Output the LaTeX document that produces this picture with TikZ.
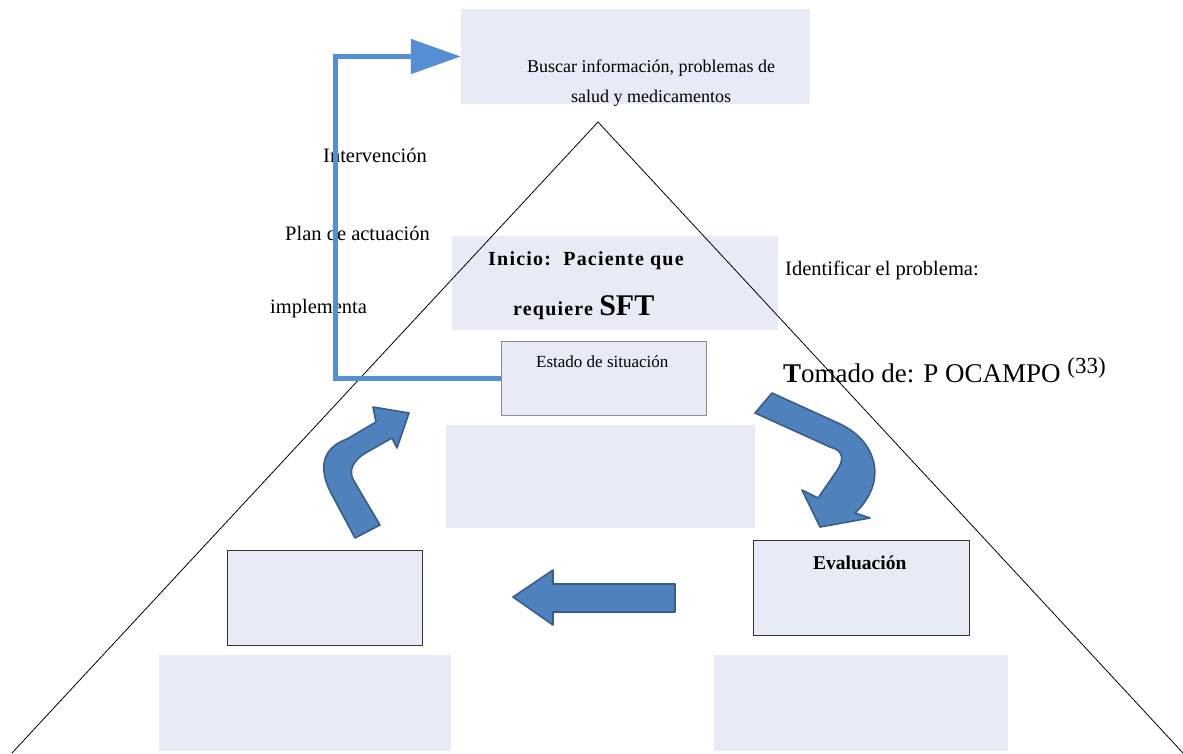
\documentclass[tikz,border=0pt]{standalone}
\usepackage{fontspec}
\setmainfont{Liberation Serif}
\usetikzlibrary{arrows.meta}
\definecolor{boxfill}{RGB}{231,235,246}
\definecolor{linkblue}{RGB}{85,142,213}
\definecolor{arrowfill}{RGB}{79,129,189}
\definecolor{arrowedge}{RGB}{56,93,138}

\begin{document}
\begin{tikzpicture}[
  x=1pt, y=-1pt,
  panel/.style = {fill=boxfill, inner sep=0pt},
  txt/.style = {inner sep=0pt, anchor=base west, font=\fontsize{20.5}{24}\selectfont},
  boxtxt/.style = {inner sep=0pt, anchor=base west, font=\fontsize{18}{21}\selectfont},
  bigarrow/.style = {fill=arrowfill, draw=arrowedge, line width=1.6pt, line join=round}
]
  \useasboundingbox (0,0) rectangle (1183,753);

  % boxes
  \node[panel, minimum width=349pt, minimum height=95pt] (buscar) at (635.5,56.5) {};
  \node[panel, minimum width=326pt, minimum height=94pt] (inicio) at (615,283) {};
  \node[panel, draw=black!45, minimum width=205pt, minimum height=74pt] (estado) at (603.5,378) {};
  \node[panel, minimum width=309pt, minimum height=103pt] (blank) at (600.5,476.5) {};
  \node[panel, draw=black!80, minimum width=195pt, minimum height=95pt] (leftbox) at (324.5,597.5) {};
  \node[panel, draw=black!80, minimum width=216pt, minimum height=95pt] (evalbox) at (861,587.5) {};
  \node[panel, minimum width=292pt, minimum height=96pt] (baseleft) at (305,703) {};
  \node[panel, minimum width=294pt, minimum height=96pt] (baseright) at (861,703) {};

  % texts
  \node[boxtxt] (buscar1) at (527,72) {Buscar información, problemas de};
  \node[boxtxt] (buscar2) at (571,102) {salud y medicamentos};
  \node[txt, font=\fontsize{20}{24}\selectfont\bfseries\addfontfeature{LetterSpace=6}] (inicio1) at (488,265)
    {Inicio:\ \ Paciente que};
  \node[txt, font=\fontsize{20}{24}\selectfont\bfseries\addfontfeature{LetterSpace=6}] (inicio2) at (513,315)
    {requiere {\fontsize{30}{34}\selectfont\addfontfeature{LetterSpace=0} SFT}};
  \node[boxtxt, font=\fontsize{17}{20}\selectfont] (estadotxt) at (536,367) {Estado de situación};
  \node[txt, font=\fontsize{19.5}{22}\selectfont\bfseries] (evaltxt) at (813,569) {Evaluación};
  \node[txt] (interv) at (323,162) {Intervención};
  \node[txt] (plan) at (285,240) {Plan de actuación};
  \node[txt] (impl) at (270,313) {implementa};
  \node[txt] (ident) at (785,275) {Identificar el problema:};
  \node[txt, font=\fontsize{27}{30}\selectfont] (fuente) at (783,382)
    {\textbf{T}omado de: P OCAMPO \raisebox{9pt}{\fontsize{23}{26}\selectfont(33)}};

  % pyramid
  \coordinate (apex) at (598,122);
  \coordinate (cornerL) at (12,753);
  \coordinate (cornerR) at (1183,753);
  \draw[line width=0.8pt] (cornerL) -- (apex) -- (cornerR);

  % link back to the top box
  \coordinate (bend) at (335,378);
  \draw[linkblue, line width=5pt, -{Triangle[length=50pt, width=34pt]}]
    (estado.west) -- (bend) |- (buscar.west);

  % block arrows
  \draw[bigarrow] (772,393) -- (838,423) .. controls (878,441) and (888,482) .. (855,513)
    -- (870,518) -- (820,527) -- (802,490) -- (818,498) -- (836,472)
    .. controls (846,458) and (842,450) .. (830,447) -- (755,413) -- cycle;
  \draw[bigarrow] (355,538) -- (331,493) .. controls (318,468) and (322,448) .. (347,439)
    -- (376,422) -- (373,407) -- (409,413) -- (397,448) -- (392,438) -- (369,451)
    .. controls (352,460) and (348,471) .. (354,481) -- (380,525) -- cycle;
  \draw[bigarrow] (675,584) -- (553,584) -- (553,570) -- (513,597) -- (553,625)
    -- (553,612) -- (675,612) -- cycle;
\end{tikzpicture}
\end{document}
